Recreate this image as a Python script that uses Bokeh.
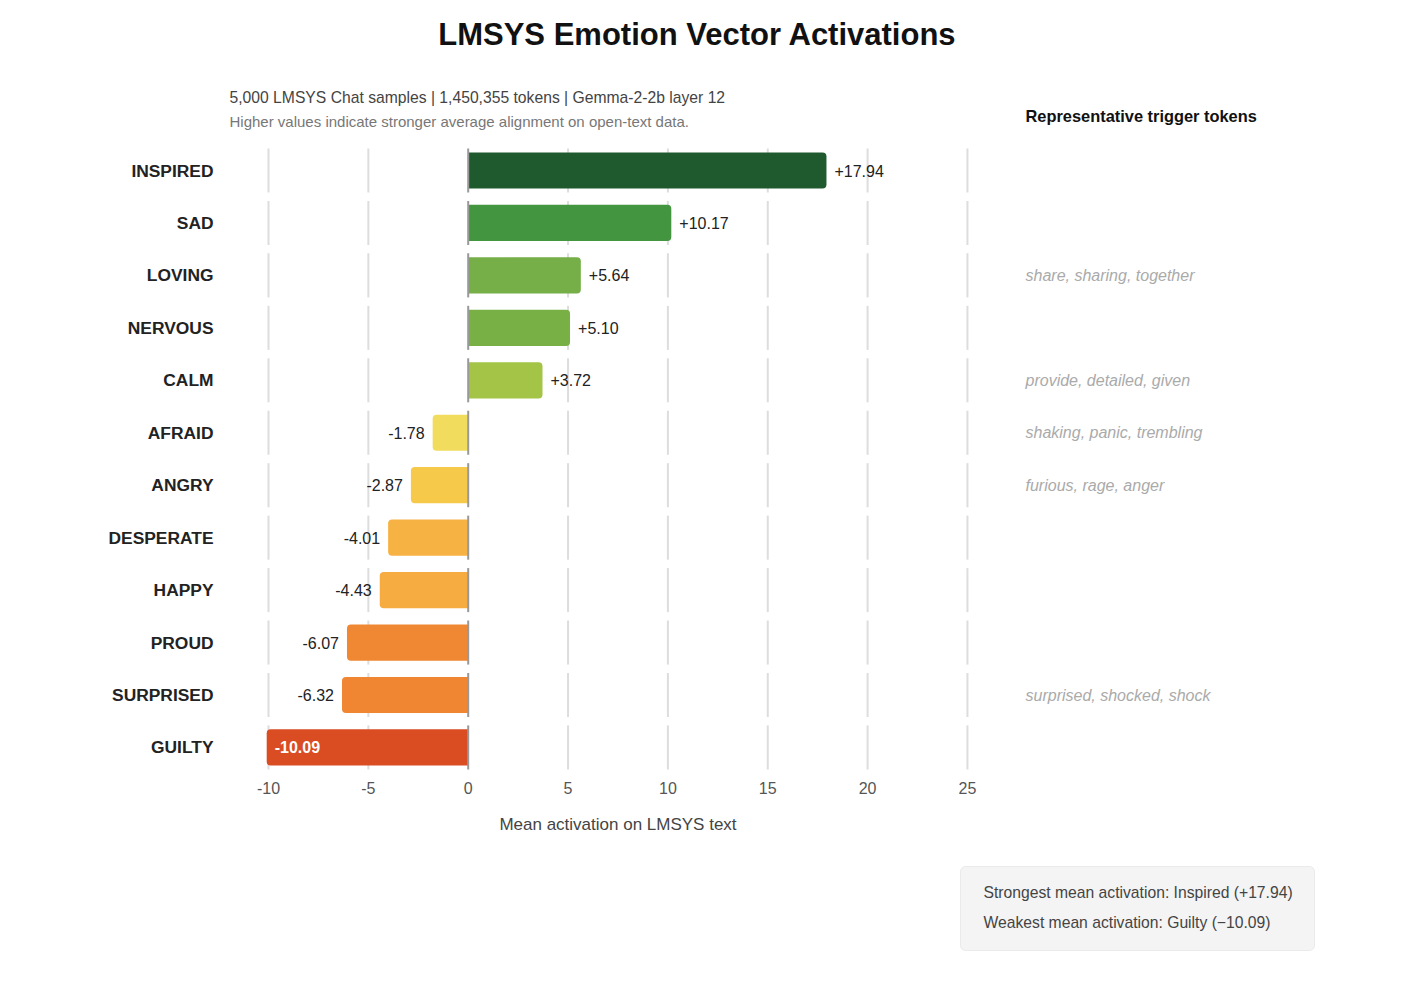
from bokeh.plotting import figure
from bokeh.models import (ColumnDataSource, Label, LabelSet, FixedTicker, BoxAnnotation, Range1d, LinearAxis)
from bokeh.core.properties import value
from bokeh.embed import file_html
from bokeh.resources import INLINE

emotions = ["INSPIRED", "SAD", "LOVING", "NERVOUS", "CALM", "AFRAID", "ANGRY",
            "DESPERATE", "HAPPY", "PROUD", "SURPRISED", "GUILTY"]
activations = [17.94, 10.17, 5.64, 5.10, 3.72, -1.78, -2.87, -4.01, -4.43, -6.07, -6.32, -10.09]
colors = ["#1f5a2e", "#43963f", "#76ae47", "#78b046", "#a3c447", "#f2dc5e", "#f6c94b",
          "#f7b244", "#f7ac42", "#f08833", "#f08532", "#da4c22"]
tokens = ["", "", "share, sharing, together", "", "provide, detailed, given",
          "shaking, panic, trembling", "furious, rage, anger", "", "", "",
          "surprised, shocked, shock", ""]
x_ticks = [-10, -5, 0, 5, 10, 15, 20, 25]
title = "LMSYS Emotion Vector Activations"
subtitle1 = "5,000 LMSYS Chat samples | 1,450,355 tokens | Gemma-2-2b layer 12"
subtitle2 = "Higher values indicate stronger average alignment on open-text data."
tokens_header = "Representative trigger tokens"
summary = ["Strongest mean activation: Inspired (+17.94)", "Weakest mean activation: Guilty (\u221210.09)"]
x_label = "Mean activation on LMSYS text"

FONT = "Liberation Sans"
W, H = 1400, 1000
KX, X0PX = 19.97, 268.0     # px per unit, pixel of x=-10
KY, Y0PX = 52.45, 170.0     # px per row, pixel of first row centre

def dx(px):
    return -10 + (px - X0PX) / KX

def dy(py):
    return (py - Y0PX) / KY

rows = list(range(len(emotions)))

p = figure(width=W, height=H, output_backend="svg", toolbar_location=None,
           x_range=Range1d(dx(0), dx(W)), y_range=Range1d(dy(H), dy(0)),
           x_axis_location=None, y_axis_location=None,
           min_border=0, min_border_left=0, min_border_right=0, min_border_top=0, min_border_bottom=0)
p.outline_line_color = None
p.xgrid.visible = False
p.ygrid.visible = False
p.background_fill_color = "white"
p.border_fill_color = "white"

# segmented gridlines
gx, gy = [], []
for t in x_ticks:
    if t == 0:
        continue
    for r in rows:
        gx.append(t); gy.append(r)
p.rect(x=gx, y=gy, width=2, width_units="screen", height=0.84, fill_color="#dddddd", line_color=None)

pos = [i for i, v in enumerate(activations) if v >= 0]
neg = [i for i, v in enumerate(activations) if v < 0]
p.hbar(y=pos, left=0, right=[activations[i] for i in pos], height=0.69,
       fill_color=[colors[i] for i in pos], line_color=None, border_radius=(0, 4, 4, 0))
p.hbar(y=neg, left=[activations[i] for i in neg], right=0, height=0.69,
       fill_color=[colors[i] for i in neg], line_color=None, border_radius=(4, 0, 0, 4))

p.rect(x=[0] * len(rows), y=rows, width=2, width_units="screen", height=0.84,
       fill_color="#999999", line_color=None)

def fmt(v):
    return ("+%.2f" % v) if v >= 0 else ("%.2f" % v)

inside = [i for i in neg if activations[i] < -9]
outside_neg = [i for i in neg if i not in inside]
common = dict(text_font=value(FONT), text_font_size="16px", text_baseline="middle")
p.text(x=[activations[i] for i in pos], y=pos, text=[fmt(activations[i]) for i in pos],
       x_offset=8, text_align="left", text_color="#222222", **common)
p.text(x=[activations[i] for i in outside_neg], y=outside_neg,
       text=[fmt(activations[i]) for i in outside_neg], x_offset=-8, text_align="right", text_color="#222222", **common)
p.text(x=[activations[i] for i in inside], y=inside, text=[fmt(activations[i]) for i in inside],
       x_offset=8, text_align="left", text_color="white", text_font_style="bold", **common)

# x axis
xa = LinearAxis(fixed_location=len(rows) - 0.5, bounds=(-10.5, 25.5))
xa.ticker = FixedTicker(ticks=x_ticks)
xa.major_label_overrides = {t: str(t) for t in x_ticks}
xa.axis_line_color = None
xa.major_tick_line_color = None
xa.minor_tick_line_color = None
xa.major_tick_out = 0
xa.major_tick_in = 0
xa.major_label_standoff = 8
xa.major_label_text_font = FONT
xa.major_label_text_font_size = "16px"
xa.major_label_text_color = "#555555"
xa.axis_label = x_label
xa.axis_label_text_font = FONT
xa.axis_label_text_font_size = "17px"
xa.axis_label_text_font_style = "normal"
xa.axis_label_text_color = "#444444"
xa.axis_label_standoff = 18
p.add_layout(xa, "below")

# y axis
ya = LinearAxis(fixed_location=-10.5, bounds=(-0.5, len(rows) - 0.5))
ya.ticker = FixedTicker(ticks=rows)
ya.major_label_overrides = {r: e for r, e in zip(rows, emotions)}
ya.axis_line_color = None
ya.major_tick_line_color = None
ya.minor_tick_line_color = None
ya.major_tick_out = 0
ya.major_tick_in = 0
ya.major_label_standoff = 45
ya.major_label_text_font = FONT
ya.major_label_text_font_size = "17.4px"
ya.major_label_text_font_style = "bold"
ya.major_label_text_color = "#222222"
p.add_layout(ya, "left")

def lab(text, px, py, size, color, style="normal", align="left"):
    p.add_layout(Label(x=dx(px), y=dy(py), text=text,
                       text_font=FONT, text_font_size=size, text_color=color, text_font_style=style,
                       text_align=align, text_baseline="middle"))

lab(title, 697, 34, "31px", "#111111", "bold", "center")
lab(subtitle1, 229, 97, "15.7px", "#444444")
lab(subtitle2, 229, 121, "15px", "#777777")
lab(tokens_header, 1025, 115, "16.4px", "#111111", "bold")

tk_rows = [r for r, t in zip(rows, tokens) if t]
tsrc = ColumnDataSource(dict(y=tk_rows, text=[t for t in tokens if t], x=[dx(1025)] * len(tk_rows)))
p.add_layout(LabelSet(x="x", y="y", text="text", source=tsrc,
                      text_font=value(FONT), text_font_size=value("16px"), text_font_style="italic",
                      text_color="#aaaaaa", text_baseline="middle"))

p.add_layout(BoxAnnotation(left=dx(960), right=dx(1314), top=dy(866), bottom=dy(950),
                           fill_color="#f4f4f4", fill_alpha=1, line_color="#c8c8c8", line_width=1,
                           border_radius=5))
lab(summary[0], 983, 892, "15.7px", "#444444")
lab(summary[1], 983, 922, "15.7px", "#444444")

open("out.html", "w").write(file_html(p, INLINE))
